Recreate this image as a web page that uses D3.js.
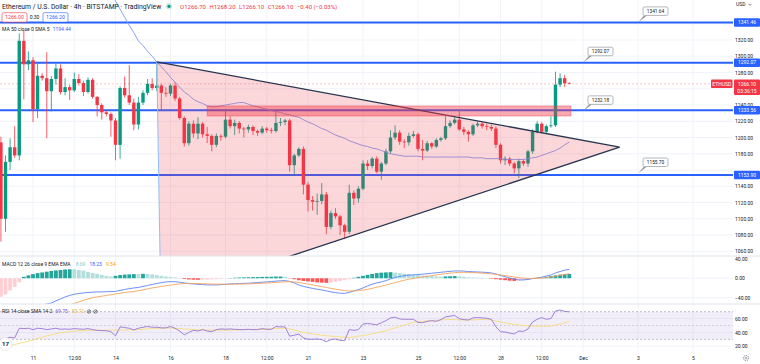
<!DOCTYPE html>
<html>
<head>
<meta charset="utf-8">
<script src="https://cdn.jsdelivr.net/npm/d3@7"></script>
<style>
  body { margin: 0; background: #fff; }
  svg { display: block; font-family: Roboto, "Liberation Sans", Arial, sans-serif; }
</style>
</head>
<body>
<div id="chart"></div>
<script>
// ---- data (4h candles, ETHUSD, from Nov 9 20:00 UTC) ----
var startTime = Date.UTC(2022, 10, 9, 20);
var barMs = 4 * 3600 * 1000;

// [open, high, low, close]
var candles = [
  [1194,1201,1072,1100],[1100,1178,1084,1170],[1170,1199,1160,1188],[1188,1214,1175,1178],
  [1178,1328,1172,1319],[1319,1332,1247,1290],[1290,1306,1283,1295],[1295,1299,1219,1235],
  [1235,1291,1224,1276],[1276,1279,1270,1273],[1273,1305,1199,1257],[1257,1276,1232,1272],
  [1272,1291,1265,1285],[1285,1290,1253,1256],[1256,1273,1252,1262],[1262,1265,1246,1258],
  [1258,1280,1256,1272],[1272,1278,1264,1267],[1267,1270,1251,1256],[1256,1274,1254,1271],
  [1271,1273,1248,1250],[1250,1251,1226,1240],[1240,1242,1222,1231],[1231,1233,1226,1229],
  [1229,1231,1201,1221],[1221,1224,1172,1191],[1191,1263,1174,1261],[1261,1275,1249,1252],
  [1252,1289,1240,1243],[1243,1248,1209,1216],[1216,1250,1210,1243],[1243,1258,1240,1255],
  [1255,1272,1252,1266],[1266,1273,1258,1261],[1261,1293,1257,1264],[1264,1266,1234,1255],
  [1255,1262,1250,1254],[1254,1266,1251,1264],[1264,1268,1245,1248],[1248,1250,1222,1224],
  [1224,1226,1189,1193],[1193,1220,1190,1217],[1217,1221,1200,1205],[1205,1225,1198,1217],
  [1217,1219,1200,1204],[1204,1213,1193,1202],[1202,1204,1183,1191],[1191,1205,1188,1202],
  [1202,1204,1196,1201],[1201,1234,1199,1222],[1222,1226,1211,1214],[1214,1222,1203,1218],
  [1218,1220,1205,1211],[1211,1213,1200,1210],[1210,1216,1206,1213],[1213,1215,1203,1208],
  [1208,1210,1202,1206],[1206,1214,1204,1211],[1211,1213,1206,1209],[1209,1212,1205,1208],
  [1208,1234,1206,1218],[1218,1224,1214,1219],[1219,1223,1215,1221],[1221,1223,1158,1166],
  [1166,1180,1154,1178],[1178,1188,1176,1186],[1186,1189,1130,1142],[1142,1145,1109,1123],
  [1123,1128,1110,1121],[1121,1131,1105,1122],[1122,1144,1118,1130],[1130,1133,1081,1090],
  [1090,1110,1087,1107],[1107,1113,1100,1103],[1103,1105,1080,1092],[1092,1094,1075,1084],
  [1084,1142,1081,1132],[1132,1135,1117,1125],[1125,1140,1120,1137],[1137,1172,1135,1168],
  [1168,1172,1160,1165],[1165,1176,1162,1174],[1174,1177,1156,1158],[1158,1170,1148,1168],
  [1168,1186,1166,1183],[1183,1209,1180,1200],[1200,1215,1197,1206],[1206,1209,1191,1195],
  [1195,1198,1187,1194],[1194,1206,1190,1202],[1202,1208,1200,1204],[1204,1206,1183,1186],
  [1186,1197,1172,1184],[1184,1196,1182,1193],[1193,1194,1186,1189],[1189,1199,1187,1197],
  [1197,1201,1195,1199],[1199,1226,1197,1214],[1214,1221,1212,1218],[1218,1225,1216,1222],
  [1222,1234,1208,1210],[1210,1213,1203,1207],[1207,1209,1195,1204],[1204,1217,1202,1215],
  [1215,1220,1213,1217],[1217,1219,1211,1214],[1214,1217,1209,1213],[1213,1216,1208,1211],
  [1211,1214,1187,1191],[1191,1193,1168,1172],[1172,1177,1166,1174],[1174,1176,1165,1168],
  [1168,1170,1156,1162],[1162,1174,1150,1171],[1171,1173,1165,1168],[1168,1185,1164,1183],
  [1183,1210,1180,1207],[1207,1220,1205,1217],[1217,1219,1205,1207],[1207,1216,1204,1214],
  [1214,1226,1212,1215],[1215,1281,1213,1265],[1265,1279,1262,1273],[1273,1277,1262,1266.7],
  [1266.7,1268.2,1266.1,1266.1]
];

// MA 50 (SMA), earlier bars are above the visible range
var ma50 = [
  null,null,null,null,null,null,null,null,null,null,null,null,null,null,null,null,
  null,null,null,null,null,null,null,1388,1378,1368,1358,1348,1338,1329,1319,1313,
  1306,1300,1293,1287,1281,1274,1268,1262,1256,1252,1247,1244,1242,1239,1238,1238,
  1239,1240,1241,1242,1243,1243,1241,1239,1238,1236,1235,1233,1232,1231,1229,1228,
  1226,1225,1222,1219,1217,1214,1211,1209,1206,1203,1201,1199,1196,1194,1192,1190,
  1189,1187,1186,1184,1182,1180,1179,1178,1177,1177,1177,1177,1176,1176,1176,1176,
  1176,1176,1176,1176,1176,1176,1176,1175,1175,1175,1174,1174,1174,1174,1173,1173,
  1173,1173,1173,1174,1175,1176,1178,1180,1182,1184,1187,1191,1194.44
];

// MACD 12 26 9
var macdLine = [
  -85,-82,-78,-74,-70,-66,-63,-60,-57.5,-55,-53,-51,-46.6,-42.5,-38.4,-35.3,
  -32.8,-31.2,-30.2,-29.3,-28.7,-28.1,-28.1,-27.7,-27.5,-27,-25,-23,-21.5,-19.9,-18.9,-16.8,
  -14.8,-12.7,-10.7,-9,-7.6,-7,-7.2,-8.2,-9.6,-10.9,-11.7,-12.5,-13.1,-13.7,-13.7,-13.7,
  -13.1,-12.5,-11.7,-11.3,-10.9,-10.5,-10.3,-9.6,-8.8,-8.2,-7.6,-6.8,-5.9,-5.1,-4.9,-6.6,
  -9.6,-13.7,-16.8,-18.9,-20.9,-22.6,-24,-26,-28.1,-29.5,-30.8,-31.2,-29.1,-26,-23.4,-19.9,
  -15.8,-12.3,-9.6,-7.6,-4.9,-1.4,1.6,3.7,5.3,6.4,6.8,7.8,8.4,9.2,10.3,11.3,
  12.3,13.3,14.2,15,15,14.6,13.9,13.3,12.9,12.5,11.9,10.9,8.8,5.7,3.1,0.6,
  -1.8,-3.5,-3.5,-2.5,-0.8,0.6,2.1,4.7,6.8,10.9,13.9,16.6,18.23
];
var signalLine = [
  -95,-93,-91,-88,-86,-83,-80,-77,-74,-71,-68,-65,-62,-59.5,-57,-54.8,
  -51.7,-48.6,-45.5,-42.5,-40,-38.4,-36.9,-35.3,-33.8,-32.2,-30.8,-29.3,-28.1,-27.1,-25.6,-24,
  -21.9,-19.9,-18.5,-16.8,-15.4,-14.2,-12.9,-11.7,-10.9,-10.5,-10.7,-11,-11.3,-11.6,-11.9,-12.1,
  -12.2,-12.3,-12.2,-12.1,-11.9,-11.7,-11.4,-11.1,-10.7,-10.3,-9.8,-9.2,-8.6,-8,-7.3,-7.2,
  -7.6,-8.6,-10.2,-11.9,-13.7,-15.5,-17.2,-19,-20.7,-22.4,-24,-25.4,-26.1,-26.1,-25.6,-24.5,
  -22.8,-20.7,-18.5,-16.3,-14,-11.5,-8.9,-6.4,-4.1,-2,-0.2,1.4,2.8,4.1,5.3,7,
  8.2,9.4,10.5,11.4,12.1,12.3,12,11.6,11.1,10.5,9.8,9,8,6.9,5.5,4,
  2.5,1.2,0.2,-0.2,-0.3,0,0.6,1.5,2.6,4.3,6.1,7.9,9.54
];
var macdHist = [
  -38,-33,-25,-18,-8,3,6,8.5,10.5,12,13.5,15,16,17,18,18.5,
  18.5,17,15.5,13,11,9,7,5,3.5,5,6.5,7.5,8,8.5,8.5,9,
  8.8,8,6.5,5,3.5,2.5,1.5,0.5,-1.5,-2.5,-3,-3.2,-3,-2.8,-2.2,-1.8,
  -1.2,-0.5,0.5,1,1.5,1.8,2,2.3,2.5,2.8,3,3.2,3.5,3.6,3.2,-0.5,
  -2,-4,-5.5,-6.5,-7.5,-8.5,-9,-9.5,-8.5,-7,-5.5,-4,-2,1,3,5,
  7,9,10.5,11.5,12,12.5,11.5,10.5,9.5,8.5,7.5,6.5,5.5,5,4.5,4,
  3.5,3.8,4.2,4.5,4,3,2,1.5,1.2,1,0.5,-1,-2,-3,-4,-5,
  -5.5,-4.5,-3.5,-2.5,-1,0.5,1.5,3,4.5,6,7.5,8.5,8.69
];

// RSI 14 and its SMA 14
var rsi = [
  24,31,33,32,46,45.5,46,44,46,45.5,44,45,46,44.5,45,44.5,
  45.5,45,44.5,45.5,44,43,42.5,42.5,41,35,48,47,46,43.5,46,47.5,
  48.5,47.5,47.5,46.5,46.5,48.5,46,42,36.5,40,43,42,44,42,41,44,
  45,44.5,45,44.5,44,44,44.5,44,44,45.5,44.5,44.5,48.5,48,48,34.5,
  36,37.5,32,30,30,30.5,29.5,26.5,29.5,30.5,28.5,28,44,43,44,52,
  53,52,51,54,57,61,62,59.5,59,59,59,54.5,54,56,57,56,
  58.5,62.5,63.5,64.5,60,58.5,58,61,61.5,61,60.5,59,48,41,40.5,39,
  37.8,42,41.5,45,55,59,61.5,59,60,71,72.5,70.5,69.75
];
var rsiSma = [
  19,20,21,22.5,24,25.5,27,29,31,33,35,36.5,38,39.3,40,41,
  42,42.3,42.5,42.8,43,43.2,43.2,43.2,43.3,43.3,43.5,43.5,43.6,43.5,44,44.5,
  45,45.5,46,46.3,46.5,46.3,46,45.5,45,44.5,44,43.8,43.5,43.3,43.2,43.2,
  43.2,43.3,43.3,43.5,43.7,44,44.2,44.3,44.5,44.5,44.8,45.2,45.6,46,46,45,
  43.5,41.5,40,39,37.8,36.8,36,35.2,34.5,34,33.5,33,32.6,33.5,34.5,35.5,
  36.5,38,39.5,41,42.5,44.5,46.5,48.5,50.5,52.5,54.5,55.5,56,56.5,57,57.5,
  58,58.5,58.7,58.5,58.2,58,58,58.2,58.5,58.7,58.7,58,56.5,55,53.8,52.5,
  51.5,50.5,50,49.5,49.2,49,49,49,49.2,50.5,52,54,55.72
];

// horizontal levels, callouts, zone and triangle drawn on the chart
var levelPrices = [1341.46, 1292.07, 1233.56, 1153.90];
var calloutPrices = [1341.64, 1292.07, 1232.18, 1155.70];
var calloutTimes = [Date.UTC(2022,11,3), Date.UTC(2022,11,1), Date.UTC(2022,11,1), Date.UTC(2022,11,3)];
var zonePrices = [1226.5, 1238.8];
var zoneTimes = [Date.UTC(2022,10,17,8), Date.UTC(2022,10,30,13,30)];
var triangleTimes = [Date.UTC(2022,10,15,12), Date.UTC(2022,11,2,8), Date.UTC(2022,10,15,15,30)];
var trianglePrices = [1293, 1188.3, 1001.3];
var lastPrice = 1266.10;

// axis ticks (grid on every 20, labels only where not covered by a tag)
var priceTicks = [1340,1320,1300,1280,1260,1240,1220,1200,1180,1160,1140,1120,1100,1080,1060];
var priceLabels = [1320,1300,1280,1240,1220,1200,1180,1140,1120,1100,1080,1060];
var macdTicks = [40, 0, -40];
var rsiTicks = [60, 40, 20];
var tickDates = [
  Date.UTC(2022,10,11), Date.UTC(2022,10,12,12), Date.UTC(2022,10,14), Date.UTC(2022,10,16),
  Date.UTC(2022,10,18), Date.UTC(2022,10,19,12), Date.UTC(2022,10,21), Date.UTC(2022,10,23),
  Date.UTC(2022,10,25), Date.UTC(2022,10,26,12), Date.UTC(2022,10,28), Date.UTC(2022,10,29,12),
  Date.UTC(2022,11,1), Date.UTC(2022,11,3), Date.UTC(2022,11,5)
];
var tickLabels = ["11","12:00","14","16","18","12:00","21","23","25","12:00","28","12:00","Dec","3","5"];

// ---- layout ----
var width = 760, height = 364, plotRight = 733;
var mainPane = {top: 0, bottom: 256},
    macdPane = {top: 256, bottom: 304},
    rsiPane = {top: 304, bottom: 352};

var upColor = "#089981", downColor = "#f23645", lineBlue = "#2962ff", textColor = "#131722";

var svg = d3.select("#chart").append("svg")
  .attr("width", width)
  .attr("height", height);

svg.append("rect").attr("width", width).attr("height", height).attr("fill", "#fff");

var defs = svg.append("defs");
function addClip(id, pane, w) {
  defs.append("clipPath").attr("id", id).append("rect")
    .attr("x", 0).attr("y", pane.top)
    .attr("width", w).attr("height", pane.bottom - pane.top);
}
addClip("clipMain", mainPane, plotRight);
addClip("clipMacd", macdPane, plotRight);
addClip("clipRsi", rsiPane, plotRight);
addClip("clipMacdAxis", macdPane, width);

var x = d3.scaleUtc()
  .domain([new Date(Date.UTC(2022,10,11)), new Date(Date.UTC(2022,11,5))])
  .range([33, 693]);
var y = d3.scaleLinear().domain([1060, 1320]).range([251.3, 40]);
var yMacd = d3.scaleLinear().domain([-40, 40]).range([297.7, 258.8]);
var yRsi = d3.scaleLinear().domain([30, 70]).range([339.3, 311.7]);

var bars = candles.map(function(c, i) {
  return {t: new Date(startTime + i * barMs), o: c[0], h: c[1], l: c[2], c: c[3], i: i};
});
function bx(d) { return x(d.t); }

// ---- grid ----
var grid = svg.append("g").attr("stroke", "#f0f3fa").attr("stroke-width", 1);
grid.selectAll(".vg").data(tickDates).enter().append("line")
  .attr("x1", function(d) { return x(d); }).attr("x2", function(d) { return x(d); })
  .attr("y1", 0).attr("y2", rsiPane.bottom);
grid.selectAll(".hg").data(priceTicks).enter().append("line")
  .attr("x1", 0).attr("x2", plotRight)
  .attr("y1", function(d) { return y(d); }).attr("y2", function(d) { return y(d); });
grid.selectAll(".mg").data(macdTicks.slice(1)).enter().append("line")
  .attr("x1", 0).attr("x2", plotRight)
  .attr("y1", function(d) { return yMacd(d); }).attr("y2", function(d) { return yMacd(d); });
grid.selectAll(".rg").data(rsiTicks).enter().append("line")
  .attr("x1", 0).attr("x2", plotRight)
  .attr("y1", function(d) { return yRsi(d); }).attr("y2", function(d) { return yRsi(d); });

// ---- main pane ----
var main = svg.append("g").attr("clip-path", "url(#clipMain)");

main.selectAll(".level").data(levelPrices).enter().append("line")
  .attr("x1", 0).attr("x2", plotRight)
  .attr("y1", function(d) { return y(d); }).attr("y2", function(d) { return y(d); })
  .attr("stroke", lineBlue).attr("stroke-width", 2);

// last price line
main.append("line")
  .attr("x1", 0).attr("x2", plotRight)
  .attr("y1", y(lastPrice)).attr("y2", y(lastPrice))
  .attr("stroke", downColor).attr("stroke-opacity", 0.35)
  .attr("stroke-width", 0.8).attr("stroke-dasharray", "2,2");

// candles
var candleG = main.append("g");
candleG.selectAll(".wick").data(bars).enter().append("line")
  .attr("x1", bx).attr("x2", bx)
  .attr("y1", function(d) { return y(d.h); })
  .attr("y2", function(d) { return y(d.l); })
  .attr("stroke", function(d) { return d.c >= d.o ? upColor : downColor; })
  .attr("stroke-width", 0.8);
candleG.selectAll(".body").data(bars).enter().append("rect")
  .attr("x", function(d) { return bx(d) - 1.7; })
  .attr("width", 3.4)
  .attr("y", function(d) { return y(Math.max(d.o, d.c)); })
  .attr("height", function(d) { return Math.max(0.8, Math.abs(y(d.o) - y(d.c))); })
  .attr("fill", function(d) { return d.c >= d.o ? upColor : downColor; });

// MA 50
main.append("path")
  .datum(bars.filter(function(d) { return ma50[d.i] != null; }))
  .attr("fill", "none").attr("stroke", "#7d9af0").attr("stroke-width", 0.9)
  .attr("d", d3.line().x(bx).y(function(d) { return y(ma50[d.i]); }));

// triangle
var tri = triangleTimes.map(function(t, i) { return [x(new Date(t)), y(trianglePrices[i])]; });
main.append("path")
  .attr("d", "M" + tri.join("L") + "Z")
  .attr("fill", downColor).attr("fill-opacity", 0.2);
main.append("line")
  .attr("x1", tri[0][0]).attr("y1", tri[0][1]).attr("x2", tri[2][0]).attr("y2", tri[2][1])
  .attr("stroke", "#90bff9").attr("stroke-width", 1);
main.append("path")
  .attr("d", "M" + tri[0] + "L" + tri[1] + "L" + tri[2])
  .attr("fill", "none").attr("stroke", "#27344f").attr("stroke-width", 1.3);

// zone
main.append("rect")
  .attr("x", x(new Date(zoneTimes[0])))
  .attr("width", x(new Date(zoneTimes[1])) - x(new Date(zoneTimes[0])))
  .attr("y", y(zonePrices[1]))
  .attr("height", y(zonePrices[0]) - y(zonePrices[1]))
  .attr("fill", downColor).attr("fill-opacity", 0.42)
  .attr("stroke", downColor).attr("stroke-opacity", 0.5).attr("stroke-width", 0.8);

// callouts
calloutPrices.forEach(function(p, i) {
  var ax = x(new Date(calloutTimes[i])), ay = y(p);
  var g = svg.append("g");
  g.append("path")
    .attr("d", "M" + ax + "," + ay + "L" + (ax + 6) + "," + (ay - 7) + "L" + (ax + 9) + "," + (ay - 7) + "Z")
    .attr("fill", "#9598a1");
  g.append("rect")
    .attr("x", ax + 5).attr("y", ay - 15.5).attr("width", 25).attr("height", 8.5)
    .attr("rx", 1.5).attr("fill", "#fff").attr("stroke", "#9598a1").attr("stroke-width", 0.7);
  g.append("text")
    .attr("x", ax + 17.5).attr("y", ay - 9.4)
    .attr("text-anchor", "middle").attr("font-size", 4.8).attr("fill", textColor)
    .text(d3.format(".2f")(p));
});

// ---- MACD pane ----
var macdG = svg.append("g").attr("clip-path", "url(#clipMacd)");
macdG.selectAll(".hist").data(bars).enter().append("rect")
  .attr("x", function(d) { return bx(d) - 1.9; })
  .attr("width", 3.8)
  .attr("y", function(d) { return Math.min(yMacd(0), yMacd(macdHist[d.i])); })
  .attr("height", function(d) { return Math.abs(yMacd(macdHist[d.i]) - yMacd(0)); })
  .attr("fill", function(d) {
    var h = macdHist[d.i], prev = d.i > 0 ? macdHist[d.i - 1] : h;
    if (h >= 0) return h > prev ? "#26a69a" : "#b2dfdb";
    return h < prev ? "#ff5252" : "#ffcdd2";
  });
macdG.append("path").datum(bars)
  .attr("fill", "none").attr("stroke", "#5b84f5").attr("stroke-width", 0.9)
  .attr("d", d3.line().x(bx).y(function(d) { return yMacd(macdLine[d.i]); }));
macdG.append("path").datum(bars)
  .attr("fill", "none").attr("stroke", "#f7a35c").attr("stroke-width", 0.9)
  .attr("d", d3.line().x(bx).y(function(d) { return yMacd(signalLine[d.i]); }));

// ---- RSI pane ----
var rsiG = svg.append("g").attr("clip-path", "url(#clipRsi)");
rsiG.append("rect")
  .attr("x", 0).attr("width", plotRight)
  .attr("y", yRsi(70)).attr("height", yRsi(30) - yRsi(70))
  .attr("fill", "#7e57c2").attr("fill-opacity", 0.1);
[70, 50, 30].forEach(function(v) {
  rsiG.append("line")
    .attr("x1", 0).attr("x2", plotRight).attr("y1", yRsi(v)).attr("y2", yRsi(v))
    .attr("stroke", "#787b86").attr("stroke-opacity", v == 50 ? 0.45 : 0.8)
    .attr("stroke-width", 0.6).attr("stroke-dasharray", "2,2");
});
rsiG.append("path").datum(bars)
  .attr("fill", "none").attr("stroke", "#f5dc7a").attr("stroke-width", 0.9)
  .attr("d", d3.line().x(bx).y(function(d) { return yRsi(rsiSma[d.i]); }));
rsiG.append("path").datum(bars)
  .attr("fill", "none").attr("stroke", "#9575d4").attr("stroke-width", 0.9)
  .attr("d", d3.line().x(bx).y(function(d) { return yRsi(rsi[d.i]); }));

// pane separators
[mainPane.bottom, macdPane.bottom].forEach(function(v) {
  svg.append("line").attr("x1", 0).attr("x2", width).attr("y1", v).attr("y2", v)
    .attr("stroke", "#e0e3eb").attr("stroke-width", 1);
});

// ---- axes ----
function styleAxis(g) {
  g.select(".domain").remove();
  g.selectAll("line").remove();
  g.selectAll("text").attr("font-size", 5).attr("fill", textColor)
    .attr("font-family", "Roboto, 'Liberation Sans', Arial, sans-serif");
}
svg.append("g").attr("transform", "translate(" + (plotRight + 2) + ",0)")
  .call(d3.axisRight(y).tickValues(priceLabels).tickFormat(d3.format(".2f")).tickSize(0).tickPadding(0))
  .call(styleAxis);
svg.append("g").attr("clip-path", "url(#clipMacdAxis)")
  .append("g").attr("transform", "translate(" + (plotRight + 2) + ",0)")
  .call(d3.axisRight(yMacd).tickValues(macdTicks).tickFormat(d3.format(".2f")).tickSize(0).tickPadding(0))
  .call(styleAxis);
svg.append("g").attr("transform", "translate(" + (plotRight + 2) + ",0)")
  .call(d3.axisRight(yRsi).tickValues(rsiTicks).tickFormat(d3.format(".2f")).tickSize(0).tickPadding(0))
  .call(styleAxis);
svg.append("g").attr("transform", "translate(0," + (rsiPane.bottom + 2) + ")")
  .call(d3.axisBottom(x).tickValues(tickDates.map(function(d) { return new Date(d); }))
    .tickFormat(function(d, i) { return tickLabels[i]; }).tickSize(0).tickPadding(2))
  .call(styleAxis);

// price scale tags
function tag(yc, label, fill, x0, w) {
  svg.append("rect").attr("x", x0).attr("y", yc - 4.2).attr("width", w).attr("height", 8.4)
    .attr("fill", fill).attr("rx", 1);
  svg.append("text").attr("x", x0 + w / 2).attr("y", yc + 1.8)
    .attr("text-anchor", "middle").attr("font-size", 5).attr("fill", "#fff").text(label);
}
levelPrices.forEach(function(p) { tag(y(p), d3.format(".2f")(p), lineBlue, plotRight + 1, 26); });
tag(y(lastPrice), "ETHUSD", downColor, 711, 21.5);
svg.append("rect").attr("x", plotRight + 1).attr("y", y(lastPrice) - 4.2).attr("width", 26).attr("height", 15.5)
  .attr("fill", downColor).attr("rx", 1);
svg.append("text").attr("x", plotRight + 14).attr("y", y(lastPrice) + 1.8)
  .attr("text-anchor", "middle").attr("font-size", 5).attr("fill", "#fff").text("1266.10");
svg.append("text").attr("x", plotRight + 14).attr("y", y(lastPrice) + 9)
  .attr("text-anchor", "middle").attr("font-size", 5).attr("fill", "#fff").text("03:36:15");

svg.append("text").attr("x", 736).attr("y", 6).attr("font-size", 5).attr("fill", textColor).text("USD");
svg.append("path").attr("d", "M748.5,3.8L750,5.3L751.5,3.8").attr("fill", "none")
  .attr("stroke", textColor).attr("stroke-width", 0.5);

// settings gear
svg.append("circle").attr("cx", 746).attr("cy", 358).attr("r", 2.6)
  .attr("fill", "none").attr("stroke", "#787b86").attr("stroke-width", 0.9).attr("stroke-dasharray", "1.2,0.8");
svg.append("circle").attr("cx", 746).attr("cy", 358).attr("r", 1)
  .attr("fill", "none").attr("stroke", "#787b86").attr("stroke-width", 0.6);

// ---- legends ----
var title = svg.append("text").attr("x", 2).attr("y", 8.8).attr("font-size", 6.8).attr("fill", textColor);
title.text("Ethereum / U.S. Dollar · 4h · BITSTAMP · TradingView");
svg.append("circle").attr("cx", 169).attr("cy", 6.3).attr("r", 3.2).attr("fill", "#089981").attr("fill-opacity", 0.2);
svg.append("circle").attr("cx", 169).attr("cy", 6.3).attr("r", 1.6).attr("fill", "#089981");
var ohlc = svg.append("text").attr("x", 180).attr("y", 8.8).attr("font-size", 6).attr("fill", downColor);
[["O", "1266.70"], ["H", "1268.20"], ["L", "1266.10"], ["C", "1266.10"]].forEach(function(p, i) {
  ohlc.append("tspan").attr("dx", i ? 3.5 : 0).text(p[0]);
  ohlc.append("tspan").text(p[1]);
});
ohlc.append("tspan").attr("dx", 3.5).text("−0.40 (−0.03%)");

svg.append("rect").attr("x", 2).attr("y", 12.7).attr("width", 25).attr("height", 9.4).attr("rx", 1.5)
  .attr("fill", "#fff").attr("stroke", downColor).attr("stroke-width", 0.6);
svg.append("text").attr("x", 14.5).attr("y", 19.3).attr("text-anchor", "middle")
  .attr("font-size", 5.2).attr("fill", downColor).text("1266.00");
svg.append("text").attr("x", 34.5).attr("y", 19.3).attr("text-anchor", "middle")
  .attr("font-size", 5).attr("fill", textColor).text("0.30");
svg.append("rect").attr("x", 43).attr("y", 12.7).attr("width", 25).attr("height", 9.4).attr("rx", 1.5)
  .attr("fill", "#fff").attr("stroke", lineBlue).attr("stroke-width", 0.6);
svg.append("text").attr("x", 55.5).attr("y", 19.3).attr("text-anchor", "middle")
  .attr("font-size", 5.2).attr("fill", lineBlue).text("1266.20");

var maLeg = svg.append("text").attr("x", 2).attr("y", 31).attr("font-size", 5).attr("fill", textColor);
maLeg.append("tspan").text("MA 50 close 0 SMA 5");
maLeg.append("tspan").attr("dx", 3).attr("fill", lineBlue).text("1194.44");

var macdLeg = svg.append("text").attr("x", 2).attr("y", 265.5).attr("font-size", 5).attr("fill", textColor);
macdLeg.append("tspan").text("MACD 12 26 close 9 EMA EMA");
macdLeg.append("tspan").attr("dx", 5).attr("fill", "#80cbc4").text("8.69");
macdLeg.append("tspan").attr("dx", 4).attr("fill", "#2962ff").text("18.23");
macdLeg.append("tspan").attr("dx", 4).attr("fill", "#ff9800").text("9.54");

var rsiLeg = svg.append("text").attr("x", 2).attr("y", 313.2).attr("font-size", 5).attr("fill", textColor);
rsiLeg.append("tspan").text("RSI 14 close SMA 14 2");
rsiLeg.append("tspan").attr("dx", 3).attr("fill", "#7e57c2").text("69.75");
rsiLeg.append("tspan").attr("dx", 4).attr("fill", "#f0c040").text("55.72");
[89, 95.5].forEach(function(cx) {
  svg.append("circle").attr("cx", cx).attr("cy", 311.5).attr("r", 1.7)
    .attr("fill", "none").attr("stroke", textColor).attr("stroke-width", 0.5);
  svg.append("line").attr("x1", cx - 1.2).attr("x2", cx + 1.2).attr("y1", 312.7).attr("y2", 310.3)
    .attr("stroke", textColor).attr("stroke-width", 0.5);
});

// tradingview badge
svg.append("circle").attr("cx", 5.5).attr("cy", 344).attr("r", 6.5)
  .attr("fill", "#fff").attr("stroke", "#e0e3eb").attr("stroke-width", 0.8);
svg.append("text").attr("x", 5.5).attr("y", 346.2).attr("text-anchor", "middle")
  .attr("font-size", 6).attr("font-weight", "bold").attr("fill", textColor).text("17");
</script>
</body>
</html>
